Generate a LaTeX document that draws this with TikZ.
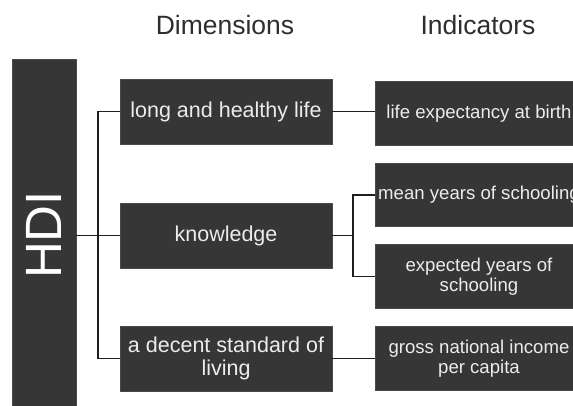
\documentclass[tikz,border=0pt]{standalone}
\usepackage{fontspec}
\setmainfont{Liberation Sans}
\begin{document}
\begin{tikzpicture}[x=1pt,y=-1pt,
  boxfill/.style={fill=boxgray,draw=boxedge,line width=0.6pt,inner sep=0pt,text=boxtext,align=center},
  dimbox/.style={boxfill,minimum width=212pt,minimum height=65pt,font=\fontsize{21.5}{22.5}\selectfont},
  indbox/.style={boxfill,minimum width=208pt,minimum height=63.5pt,font=\fontsize{18.6}{20.5}\selectfont},
  head/.style={text=headgray,font=\fontsize{26.5}{30}\selectfont,inner sep=0pt},
  link/.style={line width=1.9pt,draw=linegray}]
\definecolor{boxgray}{HTML}{363636}
\definecolor{boxedge}{HTML}{4A4A4A}
\definecolor{boxtext}{HTML}{ECECEC}
\definecolor{headgray}{HTML}{2E2E2E}
\definecolor{linegray}{HTML}{1E1E1E}
\useasboundingbox (0,0) rectangle (573,406);
\fill[white] (0,0) rectangle (573,406);

% column headings
\node[head,anchor=base] (hdim) at (225,35) {Dimensions};
\node[head,anchor=base] (hind) at (478,35) {Indicators};

% index bar
\node[boxfill,minimum width=64pt,minimum height=352pt] (hdi) at (44,235) {};
\node[text=white,rotate=90,font=\fontsize{51}{51}\selectfont,inner sep=0pt] (hditxt) at (44,235) {HDI};

% dimensions
\node[dimbox] (life) at (226,111.5) {long and healthy life};
\node[dimbox] (know) at (226,235.5) {knowledge};
\node[dimbox] (stand) at (226,358.5) {a decent standard of\\living};

% indicators
\node[indbox] (lexp) at (479,113.5) {life expectancy at birth};
\node[indbox] (mys) at (479,195) {mean years of schooling};
\node[indbox] (eys) at (479,276.5) {expected years of\\schooling};
\node[indbox] (gni) at (479,358.5) {gross national income\\per capita};

% tree from the index to its dimensions
\coordinate (trunk) at (98,235.5);
\draw[link] (hdi.east |- know.west) -- (know.west);
\draw[link] (life.west) -| (trunk) |- (stand.west);

% dimensions to indicators
\coordinate (fork) at (353,235.5);
\draw[link] (life.east) -- (lexp.west |- life.east);
\draw[link] (know.east) -- (fork);
\draw[link] (mys.west) -| (fork) |- (eys.west);
\draw[link] (stand.east) -- (gni.west);
\end{tikzpicture}
\end{document}
